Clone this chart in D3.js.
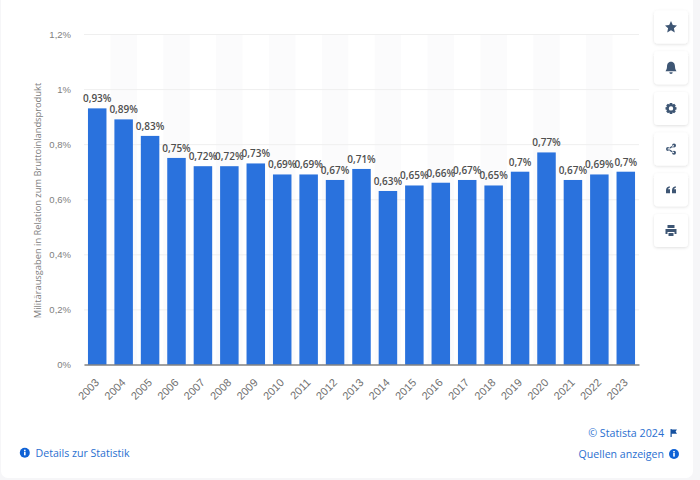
<!DOCTYPE html>
<html>
<head>
<meta charset="utf-8">
<script src="https://cdn.jsdelivr.net/npm/d3@7"></script>
<style>
  html, body { margin: 0; padding: 0; background: #f6f6f8; }
  svg { display: block; font-family: "Open Sans", sans-serif; }
</style>
</head>
<body>
<div id="chart"></div>
<script>
var years = ["2003", "2004", "2005", "2006", "2007", "2008", "2009", "2010", "2011", "2012", "2013",
             "2014", "2015", "2016", "2017", "2018", "2019", "2020", "2021", "2022", "2023"];
var values = [0.93, 0.89, 0.83, 0.75, 0.72, 0.72, 0.73, 0.69, 0.69, 0.67, 0.71,
              0.63, 0.65, 0.66, 0.67, 0.65, 0.7, 0.77, 0.67, 0.69, 0.7];
var yTicks = [0, 0.2, 0.4, 0.6, 0.8, 1, 1.2];
var yTitle = "Militärausgaben in Relation zum Bruttoinlandsprodukt";

var margin = {top: 34, left: 84, right: 61, bottom: 115.5},
    width = 700 - margin.left - margin.right,
    height = 480 - margin.top - margin.bottom;

function pct(v) { return String(v).replace(".", ",") + "%"; }

var svg = d3.select("#chart").append("svg")
    .attr("width", 700)
    .attr("height", 480);

// white card behind everything
svg.append("rect")
    .attr("x", 1).attr("y", -10)
    .attr("width", 692).attr("height", 488)
    .attr("rx", 7)
    .attr("fill", "#fff");

var g = svg.append("g")
    .attr("transform", "translate(" + margin.left + "," + margin.top + ")");

var x = d3.scaleBand().domain(years).range([0, width]).paddingInner(0.3).paddingOuter(0.15);
var y = d3.scaleLinear().domain([0, 1.2]).range([height, 0]);

// alternating stripes
g.append("g").selectAll("rect")
    .data(years.filter(function(d, i) { return i % 2 == 1; }))
    .enter().append("rect")
    .attr("x", function(d) { return x(d) - x.step() * x.paddingInner() / 2; })
    .attr("y", 0)
    .attr("width", x.step())
    .attr("height", height)
    .attr("fill", "#fbfbfc");

// y axis
var yAxis = g.append("g")
    .call(d3.axisLeft(y).tickValues(yTicks).tickSize(-width).tickPadding(13)
        .tickFormat(pct));
yAxis.select(".domain").remove();
yAxis.selectAll("line").attr("stroke", "#efefef");
yAxis.selectAll("text")
    .style("font-size", "9.5px")
    .attr("fill", "#808080");

g.append("g").selectAll("rect")
    .data(years)
    .enter().append("rect")
    .attr("x", function(d) { return x(d); })
    .attr("y", function(d, i) { return y(values[i]); })
    .attr("width", x.bandwidth())
    .attr("height", function(d, i) { return height - y(values[i]); })
    .attr("fill", "#2a72dd");

// value labels
g.append("g").selectAll("text")
    .data(years)
    .enter().append("text")
    .attr("x", function(d) { return x(d) + x.bandwidth() / 2; })
    .attr("y", function(d, i) { return y(values[i]) - 6; })
    .attr("text-anchor", "middle")
    .style("font-size", "10px")
    .style("font-weight", "600")
    .attr("fill", "#4f4f4f")
    .text(function(d, i) { return pct(values[i]); });

// x axis
var xAxis = g.append("g")
    .attr("transform", "translate(0," + height + ")")
    .call(d3.axisBottom(x).tickSize(0));
xAxis.select(".domain").attr("stroke", "#4a4a4a").attr("stroke-width", 1);
xAxis.selectAll("text")
    .style("font-size", "11px")
    .attr("fill", "#707070")
    .attr("text-anchor", "end")
    .attr("x", 0)
    .attr("y", 0)
    .attr("dy", "0.35em")
    .attr("transform", "translate(0,16) rotate(-45)");

// y title
svg.append("text")
    .attr("transform", "translate(41,200.5) rotate(-90)")
    .attr("text-anchor", "middle")
    .style("font-size", "9.3px")
    .attr("fill", "#808080")
    .text(yTitle);

// footer links
var blue = "#2a6fd0";
svg.append("text").attr("x", 35.5).attr("y", 456.5)
    .style("font-size", "10.6px").attr("fill", blue)
    .text("Details zur Statistik");
svg.append("text").attr("x", 664).attr("y", 437)
    .attr("text-anchor", "end").style("font-size", "10.7px").attr("fill", blue)
    .text("© Statista 2024");
svg.append("text").attr("x", 664).attr("y", 458)
    .attr("text-anchor", "end").style("font-size", "10.6px").attr("fill", blue)
    .text("Quellen anzeigen");

function infoIcon(cx, cy) {
    svg.append("circle").attr("cx", cx).attr("cy", cy).attr("r", 5).attr("fill", "#0f62d6");
    svg.append("rect").attr("x", cx - 0.8).attr("y", cy - 1).attr("width", 1.6).attr("height", 3.6).attr("fill", "#fff");
    svg.append("rect").attr("x", cx - 0.8).attr("y", cy - 3).attr("width", 1.6).attr("height", 1.4).attr("fill", "#fff");
}
infoIcon(24.8, 452.7);
infoIcon(674, 454);

// little flag next to the copyright
svg.append("path")
    .attr("transform", "translate(670.5,429)")
    .attr("d", "M0,0h1.2v8h-1.2z M1.2,0.5h5.3l-1.4,2 1.4,2.2h-5.3z")
    .attr("fill", "#14509f");

// toolbar buttons on the right
var icons = [
    "M0,-6 L1.8,-2 6,-1.6 2.9,1.2 3.8,5.5 0,3.2 -3.8,5.5 -2.9,1.2 -6,-1.6 -1.8,-2z",
    "M0,-6C3,-6 4,-3.5 4,-1C4,1.5 5,2.5 5.5,3.5H-5.5C-5,2.5 -4,1.5 -4,-1C-4,-3.5 -3,-6 0,-6z M-1.7,4.5H1.7A1.7,1.7 0 0 1 -1.7,4.5z",
    "M-1.2,-5.5H1.2L1.6,-3.9 3.2,-4.6 4.8,-3 4,-1.5 5.5,-1.1V1.2L4,1.6 4.8,3.1 3.1,4.8 1.6,4 1.2,5.5H-1.2L-1.6,4 -3.1,4.8 -4.8,3.1 -4,1.6 -5.5,1.2V-1.1L-4,-1.5 -4.8,-3 -3.2,-4.6 -1.6,-3.9z M0,-2.2A2.2,2.2 0 1 0 0,2.2A2.2,2.2 0 1 0 0,-2.2z",
    "M1,-3.6a2,2 0 1 0 4,0a2,2 0 1 0 -4,0z M-5,0a2,2 0 1 0 4,0a2,2 0 1 0 -4,0z M1,3.6a2,2 0 1 0 4,0a2,2 0 1 0 -4,0z M-3.4,-0.6L2.6,-4.2 3.2,-3.2 -2.8,0.6z M-2.8,-0.6L3.2,3.2 2.6,4.2 -3.4,0.6z",
    "M-5,0.5C-5,-2 -3.6,-3.3 -1.2,-3.6V-2C-2.2,-1.8 -2.8,-1.3 -2.9,-0.5H-1V3.5H-5z M1,0.5C1,-2 2.4,-3.3 4.8,-3.6V-2C3.8,-1.8 3.2,-1.3 3.1,-0.5H5V3.5H1z",
    "M-3.5,-5.5H3.5V-2.5H-3.5z M-5.5,-1.5H5.5V3.5H3.5V1.5H-3.5V3.5H-5.5z M-2.5,2.5H2.5V5.5H-2.5z"
];

var defs = svg.append("defs");
var shadow = defs.append("filter").attr("id", "btnShadow")
    .attr("x", "-30%").attr("y", "-30%").attr("width", "160%").attr("height", "160%");
shadow.append("feDropShadow")
    .attr("dx", 0).attr("dy", 1).attr("stdDeviation", 1.5)
    .attr("flood-color", "#000").attr("flood-opacity", 0.12);

var buttons = svg.append("g").selectAll("g")
    .data(icons)
    .enter().append("g")
    .attr("transform", function(d, i) { return "translate(671," + (27 + i * 40.7) + ")"; });
buttons.append("rect")
    .attr("x", -17).attr("y", -16.5)
    .attr("width", 34).attr("height", 33)
    .attr("rx", 4)
    .attr("fill", "#fff")
    .attr("filter", "url(#btnShadow)");
buttons.append("path")
    .attr("d", function(d) { return d; })
    .attr("fill", "#3e5674")
    .attr("fill-rule", function(d, i) { return i == 2 ? "evenodd" : "nonzero"; });
</script>
</body>
</html>
